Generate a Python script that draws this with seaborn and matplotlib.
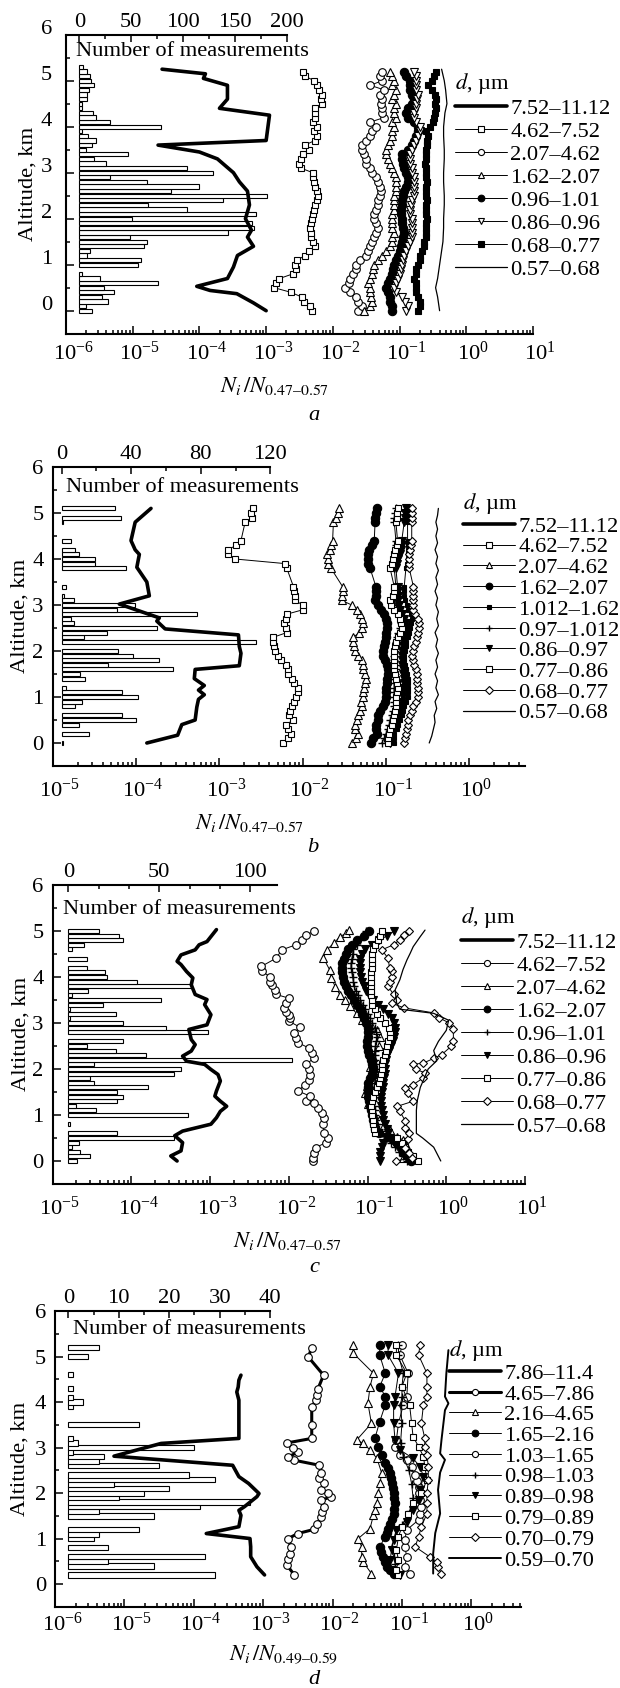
import numpy as np
import matplotlib.pyplot as plt
import seaborn as sns
from matplotlib.ticker import FixedLocator, NullFormatter
from matplotlib.transforms import ScaledTranslation

sns.set_style("ticks", {"axes.edgecolor": "black", "xtick.color": "black",
                        "ytick.color": "black", "text.color": "black"})
plt.rcParams["font.family"] = ["Liberation Serif", "DejaVu Serif"]
plt.rcParams["mathtext.fontset"] = "stix"

# values of N_i/N are kept as log10 exponents

# ---------------- panel a ----------------
alt_a = [0.0, 0.1, 0.2, 0.3, 0.4, 0.5, 0.6, 0.7, 0.8, 0.9,
         1.0, 1.1, 1.2, 1.3, 1.4, 1.5, 1.6, 1.7, 1.8, 1.9,
         2.0, 2.1, 2.2, 2.3, 2.4, 2.5, 2.6, 2.7, 2.8, 2.9,
         3.0, 3.1, 3.2, 3.3, 3.4, 3.5, 3.6, 3.7, 3.8, 3.9,
         4.0, 4.1, 4.2, 4.3, 4.4, 4.5, 4.6, 4.7, 4.8, 4.9,
         5.0, 5.1, 5.2]
a_sq = [-2.31, -2.34, -2.43, -2.47, -2.63, -2.88, -2.85, -2.80, -2.60, -2.55,
        -2.57, -2.53, -2.42, -2.36, -2.27, -2.30, -2.33, -2.33, -2.34, -2.33,
        -2.31, -2.30, -2.29, -2.27, -2.24, -2.22, -2.24, -2.27, -2.28, -2.30,
        -2.30, -2.48, -2.51, -2.48, -2.45, -2.36, -2.42, -2.27, -2.24, -2.29,
        -2.24, -2.30, -2.27, -2.27, -2.27, -2.17, -2.18, -2.17, -2.21, -2.24,
        -2.28, -2.42, -2.45]
a_circ = [-1.62, -1.57, -1.62, -1.66, -1.75, -1.82, -1.76, -1.75, -1.70, -1.66,
          -1.65, -1.59, -1.50, -1.47, -1.44, -1.41, -1.38, -1.35, -1.32, -1.35,
          -1.38, -1.38, -1.35, -1.32, -1.32, -1.30, -1.28, -1.29, -1.32, -1.35,
          -1.41, -1.44, -1.50, -1.50, -1.54, -1.56, -1.56, -1.50, -1.44, -1.41,
          -1.35, -1.44, -1.23, -1.26, -1.27, -1.28, -1.27, -1.29, -1.23, -1.44,
          -1.26, -1.29, -1.26]
a_tri = [-1.54, -1.44, -1.41, -1.43, -1.44, -1.45, -1.47, -1.44, -1.41, -1.40,
         -1.38, -1.32, -1.26, -1.20, -1.14, -1.11, -1.11, -1.09, -1.11, -1.12,
         -1.11, -1.11, -1.08, -1.09, -1.08, -1.08, -1.05, -1.05, -1.06, -1.06,
         -1.08, -1.11, -1.14, -1.18, -1.20, -1.21, -1.18, -1.14, -1.12, -1.11,
         -1.08, -1.11, -1.05, -1.08, -1.08, -1.05, -1.11, -1.08, -1.05, -1.11,
         -1.08, -1.11, -1.14]
a_dot = [-1.11, -1.11, -1.14, -1.14, -1.17, -1.20, -1.17, -1.14, -1.11, -1.10,
         -1.08, -1.05, -1.02, -0.99, -0.98, -0.96, -0.95, -0.93, -0.95, -0.96,
         -0.97, -0.98, -0.98, -0.97, -0.96, -0.95, -0.93, -0.90, -0.87, -0.87,
         -0.90, -0.93, -0.95, -0.96, -0.96, -0.87, -0.81, -0.78, -0.75, -0.72,
         -0.72, -0.78, -0.87, -0.90, -0.87, -0.81, -0.79, -0.81, -0.84, -0.85,
         -0.84, -0.90, -0.93]
a_inv = [-0.90, -0.88, -0.92, -0.96, -1.05, -1.08, -1.05, -1.02, -1.00, -0.98,
         -0.96, -0.95, -0.93, -0.90, -0.87, -0.84, -0.81, -0.81, -0.81, -0.81,
         -0.82, -0.84, -0.84, -0.83, -0.81, -0.79, -0.78, -0.78, -0.78, -0.79,
         -0.81, -0.82, -0.84, -0.84, -0.84, -0.81, -0.78, -0.75, -0.72, -0.69,
         -0.70, -0.75, -0.78, -0.78, -0.75, -0.75, -0.74, -0.72, -0.75, -0.76,
         -0.75, -0.75, -0.78]
a_fsq = [-0.72, -0.70, -0.69, -0.72, -0.75, -0.75, -0.76, -0.78, -0.76, -0.75,
         -0.72, -0.70, -0.69, -0.66, -0.64, -0.63, -0.61, -0.60, -0.61, -0.60,
         -0.59, -0.60, -0.61, -0.60, -0.59, -0.60, -0.61, -0.60, -0.59, -0.60,
         -0.60, -0.61, -0.62, -0.61, -0.60, -0.60, -0.59, -0.59, -0.57, -0.60,
         -0.55, -0.50, -0.49, -0.47, -0.46, -0.47, -0.46, -0.47, -0.52, -0.57,
         -0.52, -0.49, -0.46]
alt_a_big = [0.0, 0.17, 0.37, 0.44, 0.53, 0.7, 0.95, 1.2, 1.4, 1.6, 1.75, 2.0, 2.3, 2.6,
             2.8, 3.0, 3.3, 3.45, 3.6, 3.7, 4.25, 4.4, 4.6, 4.9, 5.05, 5.15, 5.25]
a_big = [-3.00, -3.19, -3.44, -3.84, -4.04, -3.58, -3.49, -3.43, -3.19, -3.28, -3.22,
         -3.31, -3.25, -3.28, -3.40, -3.49, -3.73, -4.00, -4.62, -3.00, -2.95, -3.70,
         -3.58, -3.58, -3.94, -3.91, -4.56]
alt_a_fine = [0.0, 0.3, 0.5, 0.7, 1.0, 1.3, 1.5, 1.8, 2.0, 2.3, 2.5, 2.8, 3.0, 3.3,
              3.5, 3.8, 4.0, 4.3, 4.5, 4.8, 5.0, 5.25]
a_fine = [-0.40, -0.43, -0.46, -0.43, -0.40, -0.37, -0.35, -0.34, -0.34, -0.33, -0.33,
          -0.34, -0.34, -0.33, -0.33, -0.34, -0.34, -0.32, -0.29, -0.31, -0.33, -0.37]
alt_a_bar = [0.0, 0.1, 0.2, 0.3, 0.4, 0.5, 0.6, 0.7, 0.8,
             1.0, 1.1, 1.2, 1.3, 1.4, 1.5, 1.6, 1.7, 1.8, 1.9,
             2.0, 2.1, 2.2, 2.3, 2.4, 2.5, 2.6, 2.7, 2.8, 2.9,
             3.0, 3.1, 3.2, 3.3, 3.4, 3.5, 3.6, 3.7, 3.8, 3.9,
             4.0, 4.1, 4.2, 4.3, 4.4, 4.5, 4.6, 4.7, 4.8, 4.9,
             5.0, 5.1, 5.2, 5.3]
a_bar = [12.7, 6, 28, 21.5, 33, 24, 76, 19.6, 2.3,
         57, 59, 7.7, 10, 62, 65, 49, 143, 168, 166,
         51, 170, 104, 66, 138, 181, 88, 115, 65, 30,
         129, 104, 26, 14, 47, 6, 12, 16, 8, 3,
         79, 30, 16, 13, 2.3, 2.3, 7, 7, 9, 14,
         11, 10, 7, 4]
labels_a = ["7.52–11.12", "4.62–7.52", "2.07–4.62", "1.62–2.07",
            "0.96–1.01", "0.86–0.96", "0.68–0.77", "0.57–0.68"]

# ---------------- panel b ----------------
alt_b = [0.0, 0.1, 0.2, 0.3, 0.4, 0.5, 0.6, 0.7, 0.8, 0.9,
         1.0, 1.1, 1.2, 1.3, 1.4, 1.5, 1.6, 1.7, 1.8, 1.9,
         2.0, 2.1, 2.2, 2.3, 2.4, 2.5, 2.6, 2.7, 2.8, 2.9,
         3.0, 3.1, 3.2, 3.3, 3.4,
         3.8, 3.9, 4.0, 4.1, 4.2, 4.3, 4.4,
         4.8, 4.9, 5.0, 5.1]
b_sq = [-2.23, -2.17, -2.14, -2.18, -2.20, -2.11, -2.16, -2.15, -2.13, -2.10,
        -2.08, -2.06, -2.06, -2.10, -2.13, -2.17, -2.18, -2.20, -2.26, -2.30,
        -2.33, -2.34, -2.35, -2.35, -2.19, -2.20, -2.22, -2.20, -2.19, -1.99,
        -2.00, -2.09, -2.09, -2.10, -2.11,
        -2.19, -2.21, -2.81, -2.89, -2.89, -2.80, -2.74,
        -2.69, -2.61, -2.62, -2.60]
b_tri = [-1.41, -1.36, -1.34, -1.37, -1.37, -1.35, -1.34, -1.31, -1.29, -1.30,
         -1.27, -1.28, -1.26, -1.25, -1.24, -1.25, -1.27, -1.28, -1.29, -1.33,
         -1.37, -1.38, -1.39, -1.39, -1.32, -1.29, -1.27, -1.29, -1.31, -1.35,
         -1.41, -1.53, -1.53, -1.52, -1.52,
         -1.66, -1.69, -1.70, -1.71, -1.67, -1.66, -1.64,
         -1.63, -1.60, -1.58, -1.56]
b_dot = [-1.18, -1.15, -1.11, -1.12, -1.12, -1.10, -1.09, -1.07, -1.03, -1.01,
         -1.00, -1.00, -1.00, -0.99, -0.99, -0.98, -0.98, -0.99, -1.01, -1.03,
         -1.03, -1.02, -1.01, -1.00, -1.00, -0.99, -0.99, -1.00, -1.02, -1.06,
         -1.09, -1.13, -1.12, -1.12, -1.12,
         -1.19, -1.21, -1.22, -1.22, -1.20, -1.17, -1.14,
         -1.13, -1.13, -1.12, -1.11]
b_fsq = [-0.90, -0.90, -0.90, -0.87, -0.85, -0.83, -0.81, -0.79, -0.78, -0.76,
         -0.74, -0.74, -0.74, -0.74, -0.74, -0.75, -0.76, -0.77, -0.78, -0.78,
         -0.77, -0.76, -0.76, -0.74, -0.72, -0.71, -0.70, -0.69, -0.70, -0.73,
         -0.75, -0.77, -0.78, -0.78, -0.78,
         -0.76, -0.75, -0.74, -0.74, -0.74, -0.74, -0.74,
         -0.74, -0.73, -0.72, -0.70]
b_plus = [-1.05, -1.02, -1.00, -0.98, -0.96, -0.95, -0.93, -0.91, -0.90, -0.90,
          -0.90, -0.90, -0.90, -0.90, -0.90, -0.89, -0.88, -0.89, -0.90, -0.90,
          -0.89, -0.88, -0.88, -0.87, -0.85, -0.83, -0.82, -0.81, -0.83, -0.86,
          -0.88, -0.90, -0.89, -0.88, -0.88,
          -0.90, -0.89, -0.88, -0.88, -0.88, -0.88, -0.88,
          -0.90, -0.90, -0.89, -0.88]
b_inv = [-0.95, -0.94, -0.93, -0.91, -0.89, -0.88, -0.86, -0.84, -0.83, -0.81,
         -0.80, -0.79, -0.78, -0.78, -0.78, -0.79, -0.80, -0.81, -0.81, -0.81,
         -0.81, -0.80, -0.79, -0.78, -0.77, -0.76, -0.76, -0.78, -0.81, -0.83,
         -0.84, -0.85, -0.86, -0.86, -0.86,
         -0.88, -0.87, -0.85, -0.83, -0.82, -0.81, -0.81,
         -0.78, -0.77, -0.77, -0.76]
b_osq = [-0.98, -0.97, -0.96, -0.95, -0.93, -0.91, -0.90, -0.89, -0.88, -0.88,
         -0.88, -0.87, -0.86, -0.87, -0.88, -0.89, -0.90, -0.90, -0.90, -0.90,
         -0.90, -0.89, -0.88, -0.86, -0.83, -0.81, -0.82, -0.83, -0.86, -0.90,
         -0.94, -0.95, -0.92, -0.90, -0.90,
         -0.95, -0.93, -0.91, -0.90, -0.89, -0.87, -0.86,
         -0.88, -0.87, -0.87, -0.86]
b_dia = [-0.78, -0.77, -0.76, -0.75, -0.74, -0.73, -0.71, -0.69, -0.67, -0.64,
         -0.62, -0.62, -0.62, -0.63, -0.63, -0.63, -0.64, -0.66, -0.68, -0.69,
         -0.68, -0.66, -0.64, -0.63, -0.61, -0.60, -0.60, -0.62, -0.65, -0.67,
         -0.67, -0.67, -0.67, -0.67, -0.67,
         -0.72, -0.72, -0.72, -0.72, -0.71, -0.70, -0.69,
         -0.69, -0.69, -0.69, -0.69]
alt_b_big = [0.0, 0.17, 0.4, 0.5, 0.78, 0.95, 1.05, 1.15, 1.25, 1.4, 1.6, 1.68, 1.95,
             2.1, 2.35, 2.48, 2.65, 2.72, 3.02, 3.2, 3.5, 3.82, 4.1, 4.2, 4.4, 4.8, 5.1]
b_big = [-3.87, -3.50, -3.45, -3.29, -3.27, -3.25, -3.18, -3.25, -3.18, -3.30, -3.29,
         -2.76, -2.74, -2.76, -2.77, -3.65, -3.75, -3.72, -4.20, -3.84, -3.87, -3.99,
         -3.96, -4.01, -4.06, -4.01, -3.82]
alt_b_fine = [0.0, 0.15, 0.3, 0.45, 0.6, 0.75, 0.9, 1.05, 1.2, 1.35, 1.5, 1.65, 1.8,
              1.95, 2.1, 2.25, 2.4, 2.55, 2.7, 2.85, 3.0, 3.15, 3.3, 3.45, 3.6, 3.75,
              3.9, 4.05, 4.2, 4.35, 4.5, 4.65, 4.8, 4.95, 5.1]
b_fine = [-0.48, -0.45, -0.43, -0.41, -0.42, -0.39, -0.41, -0.37, -0.40, -0.38, -0.41,
          -0.38, -0.40, -0.37, -0.40, -0.38, -0.41, -0.37, -0.39, -0.37, -0.40, -0.38,
          -0.41, -0.38, -0.40, -0.37, -0.40, -0.38, -0.41, -0.38, -0.40, -0.38, -0.40,
          -0.38, -0.37]
alt_b_bar = [0.0, 0.2, 0.4, 0.5, 0.6, 0.8, 0.9, 1.0, 1.1, 1.2, 1.4, 1.5, 1.6, 1.7, 1.8,
             1.9, 2.0, 2.2, 2.3, 2.4, 2.5, 2.6, 2.7, 2.8, 2.9, 3.0, 3.1, 3.2, 3.4, 3.8,
             3.9, 4.0, 4.1, 4.2, 4.4, 4.8, 4.9, 5.1]
b_bar = [1.1, 16, 9.8, 43, 35, 7.5, 12, 44, 35, 2.3, 13.7, 10.7, 64, 26.7, 56,
         41, 32.7, 112, 13, 26, 55, 6.9, 5.3, 78, 32, 42, 6.9, 1.6, 2.3, 37,
         19.4, 19, 10.3, 8, 5.7, 1.1, 34, 31]
labels_b = ["7.52–11.12", "4.62–7.52", "2.07–4.62", "1.62–2.07", "1.012–1.62",
            "0.97–1.012", "0.86–0.97", "0.77–0.86", "0.68–0.77", "0.57–0.68"]

# ---------------- panel c ----------------
alt_c = [0.0, 0.1, 0.2, 0.3, 0.4, 0.5, 0.6, 0.7, 0.8, 0.9,
         1.0, 1.1, 1.2, 1.3, 1.4, 1.5, 1.6, 1.7, 1.8, 1.9,
         2.0, 2.1, 2.2, 2.3, 2.4, 2.5, 2.6, 2.7, 2.8, 2.9,
         3.0, 3.1, 3.2, 3.3, 3.4, 3.5, 3.6, 3.7, 3.8, 3.9,
         4.0, 4.1, 4.2, 4.3, 4.4, 4.5, 4.6, 4.7, 4.8, 4.9,
         5.0]
c_dot = [-0.45, -0.50, -0.55, -0.58, -0.62, -0.70, -0.85, -0.90, -0.92, -0.93,
         -0.95, -0.96, -0.97, -0.98, -0.99, -1.00, -1.00, -0.99, -0.97, -0.95,
         -0.93, -0.94, -0.96, -0.98, -1.00, -1.01, -1.01, -1.00, -0.99, -1.00,
         -1.02, -1.04, -1.07, -1.10, -1.13, -1.17, -1.21, -1.25, -1.28, -1.30,
         -1.31, -1.32, -1.33, -1.32, -1.30, -1.28, -1.25, -1.20, -1.13, -1.05,
         -0.98]
c_plus = [-0.50, -0.55, -0.60, -0.65, -0.70, -0.75, -0.82, -0.86, -0.88, -0.89,
          -0.90, -0.91, -0.92, -0.93, -0.93, -0.93, -0.92, -0.91, -0.90, -0.89,
          -0.88, -0.89, -0.90, -0.91, -0.91, -0.90, -0.89, -0.88, -0.89, -0.91,
          -0.94, -0.97, -1.00, -1.03, -1.06, -1.09, -1.12, -1.15, -1.17, -1.18,
          -1.19, -1.20, -1.21, -1.21, -1.20, -1.19, -1.18, -1.14, -1.10, -1.06,
          -1.02]
c_inv = [-0.84, -0.84, -0.84, -0.82, -0.80, -0.76, -0.74, -0.75, -0.78, -0.80,
         -0.81, -0.82, -0.83, -0.83, -0.83, -0.82, -0.81, -0.80, -0.79, -0.78,
         -0.78, -0.78, -0.77, -0.75, -0.73, -0.70, -0.68, -0.66, -0.65, -0.65,
         -0.66, -0.69, -0.74, -0.80, -0.87, -0.93, -0.98, -1.02, -1.05, -1.07,
         -1.08, -1.09, -1.10, -1.10, -1.09, -1.07, -1.03, -0.95, -0.85, -0.75,
         -0.66]
c_osq = [-0.36, -0.42, -0.48, -0.52, -0.56, -0.62, -0.90, -0.92, -0.93, -0.93,
         -0.94, -0.95, -0.96, -0.95, -0.93, -0.91, -0.88, -0.86, -0.84, -0.83,
         -0.82, -0.82, -0.80, -0.78, -0.76, -0.75, -0.74, -0.72, -0.71, -0.73,
         -0.78, -0.84, -0.88, -0.91, -0.94, -0.95, -0.96, -0.96, -0.96, -0.96,
         -0.96, -0.96, -0.95, -0.94, -0.94, -0.94, -0.93, -0.90, -0.87, -0.84,
         -0.82]
alt_c_circ = [0.0, 0.07, 0.18, 0.29, 0.4, 0.5, 0.61, 0.8, 0.94, 1.05, 1.16, 1.27, 1.3,
              1.41, 1.52, 1.66, 1.77, 1.88, 1.99, 2.1, 2.24, 2.35, 2.46, 2.57, 2.68,
              2.78, 2.91, 3.04, 3.11, 3.18, 3.25, 3.33, 3.43, 3.54, 3.62, 3.72, 3.83,
              3.9, 4.01, 4.12, 4.23, 4.41, 4.59, 4.7, 4.81, 4.92, 4.99]
c_circ = [-1.69, -1.69, -1.68, -1.66, -1.53, -1.50, -1.55, -1.57, -1.55, -1.58, -1.63,
          -1.68, -1.78, -1.73, -1.88, -1.80, -1.75, -1.73, -1.75, -1.78, -1.68, -1.70,
          -1.75, -1.88, -1.91, -1.93, -1.86, -2.00, -1.98, -2.00, -2.03, -2.06, -2.03,
          -2.00, -2.16, -2.18, -2.21, -2.24, -2.24, -2.34, -2.35, -2.16, -2.09, -1.91,
          -1.83, -1.78, -1.68]
alt_c_tri = [0.06, 0.17, 0.31, 0.46, 0.53, 0.67, 0.75, 0.89, 1.04, 1.25, 1.47, 1.62,
             1.76, 2.05, 2.27, 2.49, 2.7, 2.85, 2.92, 3.07, 3.21, 3.36, 3.5, 3.61, 3.79,
             3.97, 4.15, 4.41, 4.59, 4.73, 4.88, 4.95, 5.03]
c_tri = [-0.55, -0.48, -0.50, -0.55, -0.63, -0.71, -0.80, -0.86, -0.93, -0.99, -1.03,
         -1.01, -0.99, -0.97, -0.93, -0.86, -0.84, -0.88, -0.97, -1.07, -1.14, -1.22,
         -1.29, -1.35, -1.41, -1.46, -1.48, -1.56, -1.52, -1.43, -1.35, -1.27, -1.24]
alt_c_dia = [0.0, 0.07, 0.18, 0.29, 0.47, 0.61, 0.72, 0.87, 1.08, 1.19, 1.3, 1.48, 1.59,
             1.66, 1.81, 1.92, 1.99, 2.1, 2.13, 2.23, 2.31, 2.49, 2.6, 2.86, 3.0, 3.11,
             3.22, 3.33, 3.43, 3.51, 3.62, 3.8, 3.9, 4.01, 4.12, 4.19, 4.41, 4.59, 4.7,
             4.81, 4.92, 5.0]
c_dia = [-0.64, -0.44, -0.47, -0.52, -0.49, -0.47, -0.52, -0.52, -0.59, -0.62, -0.42,
         -0.49, -0.52, -0.42, -0.29, -0.27, -0.39, -0.42, -0.29, -0.16, -0.06, 0.06,
         0.09, 0.09, 0.04, -0.09, -0.16, -0.54, -0.69, -0.62, -0.67, -0.74, -0.72,
         -0.69, -0.69, -0.72, -0.74, -0.82, -0.67, -0.59, -0.54, -0.47]
alt_c_big = [0.0, 0.11, 0.22, 0.4, 0.55, 0.65, 0.8, 0.94, 1.08, 1.19, 1.3, 1.41, 1.52,
             1.74, 1.88, 1.99, 2.1, 2.17, 2.28, 2.39, 2.53, 2.64, 2.86, 2.96, 3.18, 3.4,
             3.51, 3.62, 3.83, 3.98, 4.12, 4.27, 4.34, 4.48, 4.59, 4.7, 4.77, 5.03]
c_big = [-3.42, -3.50, -3.37, -3.35, -3.45, -3.35, -2.99, -2.92, -2.87, -2.79, -2.87,
         -2.94, -2.92, -2.87, -2.90, -2.99, -3.07, -3.30, -3.35, -3.24, -3.19, -3.24,
         -3.27, -3.04, -2.99, -3.07, -3.04, -3.19, -3.24, -3.22, -3.30, -3.37, -3.42,
         -3.37, -3.19, -3.14, -3.04, -2.92]
alt_c_fine = [0.0, 0.3, 0.5, 0.6, 0.8, 1.1, 1.3, 1.6, 1.76, 2.0, 2.18, 2.4, 2.6, 2.84,
              3.06, 3.21, 3.3, 3.43, 3.72, 3.94, 4.16, 4.37, 4.51, 4.66, 4.88, 5.02]
c_fine = [-0.07, -0.16, -0.30, -0.38, -0.38, -0.38, -0.37, -0.33, -0.29, -0.23, -0.12,
          -0.16, -0.10, 0.00, 0.03, -0.16, -0.59, -0.63, -0.65, -0.59, -0.55, -0.50,
          -0.46, -0.42, -0.33, -0.27]
alt_c_bar = [0.0, 0.1, 0.2, 0.3, 0.4, 0.5, 0.6, 0.8, 1.0, 1.1, 1.2, 1.3, 1.4, 1.5, 1.6,
             1.7, 1.8, 1.9, 2.0, 2.1, 2.2, 2.3, 2.4, 2.5, 2.6, 2.8, 2.9, 3.0, 3.1, 3.2,
             3.3, 3.4, 3.5, 3.6, 3.7, 3.8, 3.9, 4.0, 4.1, 4.2, 4.4, 4.6, 4.7, 4.8, 4.9,
             5.0]
c_bar = [5, 12, 6.5, 2, 6, 58, 27, 1, 66, 15, 4.3, 27, 30, 27, 44,
         14, 12, 58, 62, 14, 123, 43, 26, 10, 30, 77, 54, 30, 1, 26,
         1, 19, 51, 2, 11, 68, 38, 21.5, 20, 10, 10, 2, 8.6, 30, 28,
         17]
labels_c = ["7.52–11.12", "4.62–7.52", "2.07–4.62", "1.62–2.07", "0.96–1.01",
            "0.86–0.96", "0.77–0.86", "0.68–0.77", "0.57–0.68"]

# ---------------- panel d ----------------
alt_d_big = [0.2, 0.38, 0.6, 0.82, 1.0, 1.11, 1.26, 1.51, 1.62, 1.7, 1.92, 1.99, 2.21,
             2.36, 2.61, 2.81, 3.09, 3.2, 4.04, 4.22, 4.33, 4.48, 4.59]
d_big = [-2.98, -3.09, -3.18, -3.18, -3.19, -3.82, -3.35, -3.32, -3.35, -3.27, -3.09,
         -3.06, -3.21, -3.35, -3.44, -5.15, -4.47, -3.35, -3.35, -3.38, -3.36, -3.35,
         -3.32]
alt_d_circ = [0.2, 0.42, 0.56, 0.67, 0.82, 1.0, 1.11, 1.2, 1.33, 1.48, 1.59, 1.7, 1.84,
              1.92, 1.99, 2.06, 2.21, 2.32, 2.43, 2.61, 2.72, 2.79, 2.9, 2.98, 3.1, 3.2,
              3.5, 3.89, 4.04, 4.15, 4.29, 4.59, 4.99, 5.19]
d_circ = [-2.55, -2.66, -2.64, -2.61, -2.60, -2.64, -2.50, -2.27, -2.22, -2.16, -2.15,
          -2.13, -2.16, -2.02, -2.06, -2.16, -2.13, -2.19, -2.16, -2.19, -2.55, -2.64,
          -2.50, -2.57, -2.66, -2.30, -2.30, -2.30, -2.24, -2.23, -2.21, -2.13, -2.35,
          -2.30]
alt_d_tri = [0.23, 0.49, 0.6, 0.82, 1.0, 1.22, 1.52, 1.63, 1.77, 1.99, 2.21, 2.43, 2.76,
             2.95, 3.09, 3.17, 3.53, 3.97, 4.34, 4.63, 5.07, 5.25]
d_tri = [-1.44, -1.56, -1.58, -1.58, -1.63, -1.46, -1.41, -1.39, -1.36, -1.34, -1.32,
         -1.29, -1.36, -1.46, -1.56, -1.65, -1.44, -1.49, -1.46, -1.41, -1.70, -1.70]
alt_d_dot = [0.23, 0.31, 0.38, 0.49, 0.6, 0.71, 0.82, 1.04, 1.13, 1.22, 1.32, 1.42, 1.55,
             1.66, 1.77, 1.88, 1.99, 2.1, 2.21, 2.32, 2.43, 2.54, 2.65, 2.84, 3.02, 3.2,
             3.57, 3.94, 4.12, 4.34, 4.63, 5.03, 5.25]
d_dot = [-1.12, -1.17, -1.22, -1.25, -1.27, -1.30, -1.32, -1.24, -1.22, -1.20, -1.17,
         -1.14, -1.12, -1.11, -1.10, -1.11, -1.12, -1.13, -1.15, -1.16, -1.17, -1.20,
         -1.24, -1.29, -1.34, -1.39, -1.32, -1.24, -1.24, -1.32, -1.24, -1.32, -1.32]
alt_d_oc = [0.23, 0.38, 0.6, 0.82, 0.97, 1.19, 1.41, 1.55, 1.7, 1.85, 2.0, 2.14, 2.27,
            2.4, 2.58, 2.73, 2.84, 3.02, 3.17, 3.53, 3.94, 4.12, 4.63, 5.03, 5.25]
d_oc = [-0.88, -0.96, -0.93, -0.96, -0.96, -0.93, -0.76, -0.74, -0.72, -0.74, -0.75,
        -0.76, -0.78, -0.81, -0.86, -0.93, -1.03, -1.10, -1.08, -1.05, -0.98, -0.93,
        -0.91, -1.03, -1.00]
alt_d_plus = [0.23, 0.45, 0.6, 0.82, 1.04, 1.3, 1.6, 1.9, 2.2, 2.5, 2.8, 3.1, 3.53,
              3.94, 4.12, 4.34, 4.63, 5.03, 5.25]
d_plus = [-1.08, -1.10, -1.12, -1.15, -1.10, -1.00, -0.88, -0.84, -0.86, -0.90, -0.98,
          -1.02, -1.00, -1.02, -1.00, -1.00, -0.98, -1.05, -1.05]
alt_d_inv = [0.2, 0.31, 0.53, 0.75, 0.97, 1.19, 1.37, 1.63, 1.85, 2.07, 2.36, 2.58,
             2.76, 2.95, 3.17, 3.53, 3.94, 4.12, 4.63, 5.03, 5.25]
d_inv = [-1.03, -1.15, -1.17, -1.15, -1.12, -1.08, -0.93, -0.84, -0.76, -0.74, -0.69,
         -0.74, -0.84, -1.03, -1.10, -1.12, -1.12, -1.10, -1.05, -1.20, -1.20]
alt_d_osq = [0.2, 0.31, 0.53, 0.75, 1.04, 1.26, 1.55, 1.77, 1.99, 2.29, 2.58, 2.8, 3.02,
             3.24, 3.53, 3.94, 4.34, 4.63, 5.03, 5.25]
d_osq = [-1.05, -1.08, -1.05, -1.08, -1.05, -1.00, -0.91, -0.84, -0.72, -0.64, -0.67,
         -0.69, -0.76, -0.84, -0.86, -0.89, -1.00, -0.93, -1.08, -1.08]
alt_d_dia = [0.23, 0.38, 0.49, 0.6, 0.82, 1.04, 1.26, 1.55, 1.77, 1.99, 2.29, 2.58,
             2.84, 3.02, 3.2, 3.53, 3.94, 4.12, 4.34, 4.63, 5.03, 5.25]
d_dia = [-0.43, -0.48, -0.50, -0.60, -0.81, -0.76, -0.72, -0.64, -0.64, -0.64, -0.62,
         -0.62, -0.64, -0.67, -0.67, -0.72, -0.69, -0.64, -0.64, -0.64, -0.76, -0.74]
alt_d_fine = [0.23, 0.67, 1.12, 1.55, 2.07, 2.45, 2.73, 2.87, 3.17, 3.82, 3.97, 4.12,
              4.63, 5.14]
d_fine = [-0.55, -0.55, -0.52, -0.45, -0.48, -0.45, -0.38, -0.45, -0.43, -0.38, -0.33,
          -0.38, -0.36, -0.33]
alt_d_bar = [0.2, 0.4, 0.5, 0.6, 0.8, 1.0, 1.1, 1.2, 1.5, 1.6, 1.7, 1.8, 1.9, 2.0, 2.1,
             2.2, 2.3, 2.4, 2.6, 2.7, 2.8, 2.9, 3.0, 3.1, 3.2, 3.5, 3.9, 4.0, 4.1, 4.3,
             4.6, 5.0, 5.2]
d_bar = [29, 16.9, 7.9, 27, 7.9, 5, 6, 14, 17, 6, 26, 36, 10, 15, 20,
         9, 29, 24, 18, 6, 7, 1, 25, 2, 1, 14, 1, 3, 1, 1,
         1, 4, 6]
labels_d = ["7.86–11.4", "4.65–7.86", "2.16–4.65", "1.65–2.16", "1.03–1.65",
            "0.98–1.03", "0.89–0.98", "0.79–0.89", "0.70–0.79", "0.59–0.70"]

# ---------------- drawing ----------------
W, H = 620, 1688
FS = 16.2
fig = plt.figure(figsize=(W / 100, H / 100), dpi=100)
fig.patch.set_facecolor("white")
top_limits = []


def fxy(x, y):
    return x / W, 1 - y / H


def mk(marker, face, size=5.5, lw=0.7, mew=0.8):
    return dict(color="black", linewidth=lw, marker=marker, markersize=size,
                markerfacecolor=face, markeredgecolor="black", markeredgewidth=mew)


BIG = dict(color="black", linewidth=2.6)
FINE = dict(color="black", linewidth=0.9)
OSQ = mk("s", "white", 5)
OCI = mk("o", "white", 5.5)
OTR = mk("^", "white", 5.5)
FCI = mk("o", "black", 6)
FINV = mk("v", "black", 6)
OINV = mk("v", "white", 6)
FSQ = mk("s", "black", 5)
SSQ = mk("s", "black", 3.5)
PLUS = mk("+", "black", 6, mew=1.0)
DIA = mk("D", "white", 4.5)


def frame(left, top, right, bottom):
    ax = fig.add_axes([left / W, 1 - bottom / H, (right - left) / W, (bottom - top) / H])
    ax.set_xscale("log")
    ax2 = ax.twiny()
    ax2.set_zorder(ax.get_zorder() - 1)
    ax.patch.set_visible(False)
    return ax, ax2


def trace(ax, vals, alts, style):
    sns.lineplot(x=10.0 ** np.asarray(vals), y=alts, orient="y", sort=False,
                 estimator=None, ax=ax, legend=False, **style)
    return ax.lines[-1]


def bars(ax2, counts, alts, width):
    sns.barplot(x=counts, y=alts, orient="h", native_scale=True, ax=ax2,
                color="white", edgecolor="black", linewidth=0.8, width=width,
                errorbar=None, saturation=1)
    for p in ax2.patches:
        p.sticky_edges.x[:] = []


def finish(ax, ax2, xlim, top_xlim, top_end, top_major, top_minor, xpad, ypad):
    ax.set_xlim(*xlim)
    ax.set_ylim(-0.5, 6)
    ax2.set_autoscalex_on(False)
    ax2.set_xlim(*top_xlim)
    top_limits.append((ax2, top_xlim))
    for a in (ax, ax2):
        a.set_xlabel("")
        a.set_ylabel("")
    ax.spines[["top", "right"]].set_visible(False)
    ax.spines[["left", "bottom"]].set_linewidth(1.5)
    ax2.spines[["left", "right", "bottom"]].set_visible(False)
    ax2.spines["top"].set_linewidth(1.5)
    ax2.spines["top"].set_bounds(top_xlim[0], top_end)
    ax.yaxis.set_major_locator(FixedLocator([0, 1, 2, 3, 4, 5, 6]))
    ax.yaxis.set_minor_locator(FixedLocator([0.5, 1.5, 2.5, 3.5, 4.5, 5.5]))
    lo = int(np.ceil(np.log10(xlim[0]) - 1e-9))
    hi = int(np.floor(np.log10(xlim[1]) + 1e-9))
    ax.xaxis.set_major_locator(FixedLocator([10.0 ** k for k in range(lo, hi + 1)]))
    ax.xaxis.set_minor_locator(FixedLocator(
        [m * 10.0 ** k for k in range(lo, hi + 1) for m in range(2, 10)
         if m * 10.0 ** k <= xlim[1]]))
    ax.xaxis.set_minor_formatter(NullFormatter())
    ax.tick_params(which="both", direction="in", width=1.1, labelsize=FS,
                   top=False, right=False)
    ax.tick_params(which="major", length=5.5)
    ax.tick_params(which="minor", length=3)
    ax.tick_params(axis="x", pad=xpad)
    ax.tick_params(axis="y", pad=ypad)
    # the original centres "10" on the tick, the exponent hangs to the right
    nudge = ScaledTranslation(7 / 100, 0, fig.dpi_scale_trans)
    for t in ax.xaxis.get_major_ticks():
        t.label1.set_transform(t.label1.get_transform() + nudge)
    ax2.xaxis.set_major_locator(FixedLocator(top_major))
    ax2.xaxis.set_minor_locator(FixedLocator(top_minor))
    ax2.tick_params(axis="x", which="both", direction="in", top=True, bottom=False,
                    labeltop=True, labelbottom=False, width=1.1, labelsize=FS, pad=2)
    ax2.tick_params(axis="x", which="major", length=5)
    ax2.tick_params(axis="x", which="minor", length=3)


def texts(xlabel, xl_xy, letter, let_xy, ylab_xy, nom_xy):
    fig.text(*fxy(*xl_xy), xlabel, ha="center", va="center", fontsize=FS)
    fig.text(*fxy(*let_xy), letter, ha="center", va="center", fontsize=FS,
             style="italic")
    fig.text(*fxy(*ylab_xy), "Altitude, km", ha="center", va="center",
             rotation=90, fontsize=FS)
    fig.text(*fxy(*nom_xy), "Number of measurements", ha="left", va="center",
             fontsize=FS)


def legend(handles, labels, x, ytop, spacing):
    fig.legend(handles, labels, loc="upper left", bbox_to_anchor=fxy(x, ytop),
               frameon=False, fontsize=FS, title="$d$, µm", title_fontsize=FS,
               alignment="left", borderpad=0, borderaxespad=0, handlelength=2.3,
               handletextpad=0.15, labelspacing=spacing, markerscale=0.8)


XL1 = r"$N_i\,/N_{\mathrm{0.47–0.57}}$"
XL2 = r"$N_i\,/N_{\mathrm{0.49–0.59}}$"

# panel a
ax, ax2 = frame(66, 34.7, 533, 333.7)
bars(ax2, a_bar, alt_a_bar, 0.9)
h = [trace(ax, a_big, alt_a_big, BIG),
     trace(ax, a_sq, alt_a, OSQ),
     trace(ax, a_circ, alt_a, OCI),
     trace(ax, a_tri, alt_a, OTR),
     trace(ax, a_dot, alt_a, FCI),
     trace(ax, a_inv, alt_a, OINV),
     trace(ax, a_fsq, alt_a, FSQ),
     trace(ax, a_fine, alt_a_fine, FINE)]
finish(ax, ax2, (1e-6, 1e1), (-12.8, 436.9), 200, [0, 50, 100, 150, 200],
       [25, 75, 125, 175], 6, 10)
shift = ScaledTranslation(0, 8 / 100, fig.dpi_scale_trans)
for t in ax.yaxis.get_major_ticks():
    t.label1.set_transform(t.label1.get_transform() + shift)
legend(h, labels_a, 455, 71, 0.1)
texts(XL1, (275, 386), "a", (314, 416), (28, 184), (76, 52))

# panel b
ax, ax2 = frame(52.7, 467, 524.6, 766)
bars(ax2, b_bar, alt_b_bar, 0.9)
h = [trace(ax, b_big, alt_b_big, BIG),
     trace(ax, b_sq, alt_b, OSQ),
     trace(ax, b_tri, alt_b, OTR),
     trace(ax, b_dot, alt_b, FCI),
     trace(ax, b_fsq, alt_b, SSQ),
     trace(ax, b_plus, alt_b, PLUS),
     trace(ax, b_inv, alt_b, FINV),
     trace(ax, b_osq, alt_b, OSQ),
     trace(ax, b_dia, alt_b, DIA),
     trace(ax, b_fine, alt_b_fine, FINE)]
finish(ax, ax2, (1e-5, 10 ** 0.665), (-5.1, 266.2), 120, [0, 40, 80, 120],
       [20, 60, 100], 9, 6.5)
legend(h, labels_b, 463, 491, 0.0)
texts(XL1, (250, 823), "b", (313, 848), (20, 616), (66, 487))

# panel c
ax, ax2 = frame(52.7, 885, 525, 1184)
bars(ax2, c_bar, alt_c_bar, 0.9)
h = [trace(ax, c_big, alt_c_big, BIG),
     trace(ax, c_circ, alt_c_circ, OCI),
     trace(ax, c_tri, alt_c_tri, OTR),
     trace(ax, c_dot, alt_c, FCI),
     trace(ax, c_plus, alt_c, PLUS),
     trace(ax, c_inv, alt_c, FINV),
     trace(ax, c_osq, alt_c, OSQ),
     trace(ax, c_dia, alt_c_dia, DIA),
     trace(ax, c_fine, alt_c_fine, FINE)]
finish(ax, ax2, (1e-5, 1e1), (-8.6, 251.3), 114.7, [0, 50, 100],
       [16.7, 33.3, 66.7, 83.3], 9, 6.5)
legend(h, labels_c, 461, 905, 0.1)
texts(XL1, (288, 1241), "c", (314, 1268), (21, 1034), (63, 910))

# panel d
ax, ax2 = frame(55, 1311, 520.6, 1606.8)
bars(ax2, d_bar, alt_d_bar, 1.2)
h = [trace(ax, d_big, alt_d_big, BIG),
     trace(ax, d_circ, alt_d_circ, mk("o", "white", 5.5, lw=2.2)),
     trace(ax, d_tri, alt_d_tri, OTR),
     trace(ax, d_dot, alt_d_dot, FCI),
     trace(ax, d_oc, alt_d_oc, OCI),
     trace(ax, d_plus, alt_d_plus, PLUS),
     trace(ax, d_inv, alt_d_inv, FINV),
     trace(ax, d_osq, alt_d_osq, OSQ),
     trace(ax, d_dia, alt_d_dia, DIA),
     trace(ax, d_fine, alt_d_fine, dict(color="black", linewidth=1.4))]
finish(ax, ax2, (1e-6, 10 ** 0.71), (-2.63, 89.6), 40, [0, 10, 20, 30, 40],
       [5, 15, 25, 35], 4, 6.5)
legend(h, labels_d, 449, 1338, 0.0)
texts(XL2, (284, 1655), "d", (314, 1680), (20, 1459), (73, 1329))

for a2, lim in top_limits:
    a2.set_xlim(*lim)

fig.savefig("out.png", dpi=100, facecolor="white")
